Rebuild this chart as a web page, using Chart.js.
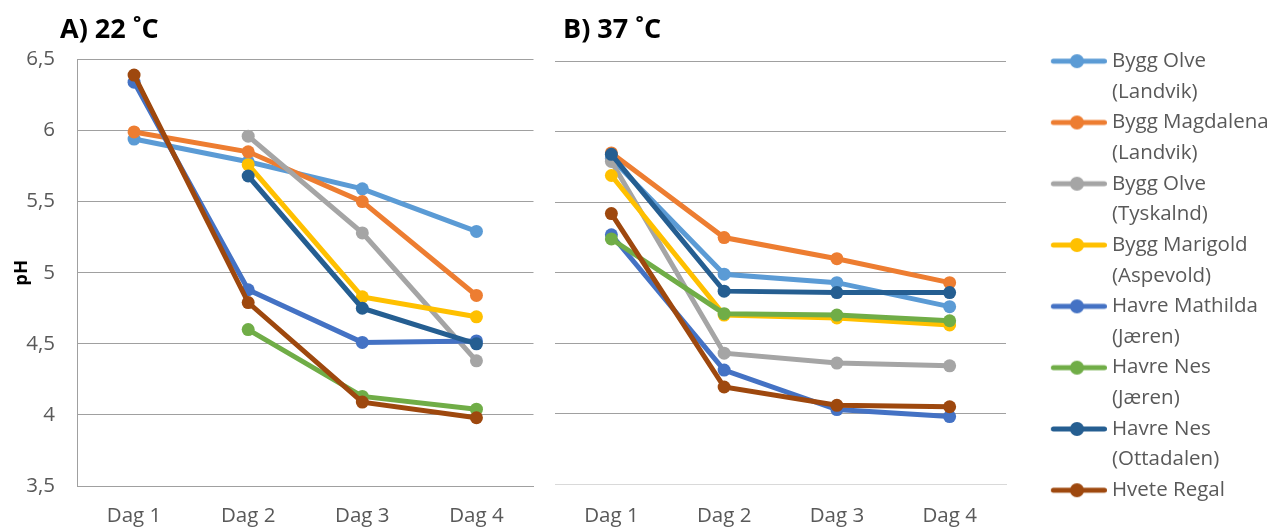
<!DOCTYPE html>
<html>
<head>
<meta charset="utf-8">
<script src="https://cdn.jsdelivr.net/npm/chart.js@4.4.1/dist/chart.umd.min.js"></script>
<style>
  body { margin: 0; background: #fff; }
  #wrap { position: relative; width: 1274px; height: 529px; overflow: hidden; }
  .panel-title { position: absolute; top: 14px; font: bold 27px 'Open Sans'; line-height: 27px; color: #000; }
  #boxA { position: absolute; left: 0; top: 0; width: 540px; height: 529px; }
  #boxB { position: absolute; left: 540px; top: 0; width: 780px; height: 529px; }
</style>
</head>
<body>
<div id="wrap">
  <div id="boxA"><canvas id="chartA"></canvas></div>
  <div id="boxB"><canvas id="chartB"></canvas></div>
  <div class="panel-title" style="left:60px">A) 22 ˚C</div>
  <div class="panel-title" style="left:563px">B) 37 ˚C</div>
</div>
<script>
// categories
const days = ['Dag 1', 'Dag 2', 'Dag 3', 'Dag 4'];

const seriesNames = [
  'Bygg Olve (Landvik)',
  'Bygg Magdalena (Landvik)',
  'Bygg Olve (Tyskalnd)',
  'Bygg Marigold (Aspevold)',
  'Havre Mathilda (Jæren)',
  'Havre Nes (Jæren)',
  'Havre Nes (Ottadalen)',
  'Hvete Regal'
];
const seriesColors = ['#5B9BD5', '#ED7D31', '#A5A5A5', '#FFC000', '#4472C4', '#70AD47', '#255E91', '#9E480E'];

// A) 22 C
const a_byggOlveLandvik   = [5.94, 5.78, 5.59, 5.29];
const a_byggMagdalena     = [5.99, 5.85, 5.50, 4.84];
const a_byggOlveTyskalnd  = [null, 5.96, 5.28, 4.38];
const a_byggMarigold      = [null, 5.76, 4.83, 4.69];
const a_havreMathilda     = [6.34, 4.88, 4.51, 4.52];
const a_havreNesJaeren    = [null, 4.60, 4.13, 4.04];
const a_havreNesOttadalen = [null, 5.68, 4.75, 4.50];
const a_hveteRegal        = [6.39, 4.79, 4.09, 3.98];

// B) 37 C
const b_byggOlveLandvik   = [5.81, 4.99, 4.93, 4.76];
const b_byggMagdalena     = [5.85, 5.25, 5.10, 4.93];
const b_byggOlveTyskalnd  = [5.79, 4.43, 4.36, 4.34];
const b_byggMarigold      = [5.69, 4.70, 4.68, 4.63];
const b_havreMathilda     = [5.27, 4.31, 4.03, 3.98];
const b_havreNesJaeren    = [5.24, 4.71, 4.70, 4.66];
const b_havreNesOttadalen = [5.84, 4.87, 4.86, 4.86];
const b_hveteRegal        = [5.42, 4.19, 4.06, 4.05];

const yTicks = [3.5, 4, 4.5, 5, 5.5, 6, 6.5];

const valuesA = [a_byggOlveLandvik, a_byggMagdalena, a_byggOlveTyskalnd, a_byggMarigold,
                 a_havreMathilda, a_havreNesJaeren, a_havreNesOttadalen, a_hveteRegal];
const valuesB = [b_byggOlveLandvik, b_byggMagdalena, b_byggOlveTyskalnd, b_byggMarigold,
                 b_havreMathilda, b_havreNesJaeren, b_havreNesOttadalen, b_hveteRegal];

const FONT = 'Open Sans';
const FSIZE = 20.5;
const TXT = '#595959';
const GRID = '#a0a0a0';
const PLOT_B_RIGHT = 466;   // where panel B's plot should end (canvas px)

const buildDatasets = (values) => {
  return values.map((v, i) => ({
    label: seriesNames[i],
    data: v,
    borderColor: seriesColors[i],
    backgroundColor: seriesColors[i],
    borderWidth: 5,
    pointRadius: 6.5,
    pointBorderWidth: 0,
    pointBackgroundColor: seriesColors[i],
    tension: 0,
    order: values.length - i   // later series drawn on top, like the original
  }));
};

// little line + dot symbol for the legend
const legendIcon = (color) => {
  const c = document.createElement('canvas');
  c.width = 106; c.height = 18;
  const g = c.getContext('2d');
  g.strokeStyle = color;
  g.lineWidth = 5;
  g.lineCap = 'round';
  g.beginPath(); g.moveTo(52.5, 9); g.lineTo(103.5, 9); g.stroke();
  g.fillStyle = color;
  g.beginPath(); g.arc(76.1, 9, 7, 0, Math.PI * 2); g.fill();
  return c;
};
const icons = seriesColors.map(legendIcon);

const commaTick = (v) => String(v).replace('.', ',');

const xAxis = (pad, height, borderColor) => ({
  offset: true,
  afterFit: (s) => { s.height = height; },
  grid: { display: false, drawTicks: false },
  border: { color: borderColor, width: 1 },
  ticks: { color: TXT, padding: pad, font: { family: FONT, size: FSIZE } }
});

// A) 22 C
new Chart(document.getElementById('chartA').getContext('2d'), {
  type: 'line',
  data: { labels: days, datasets: buildDatasets(valuesA) },
  options: {
    responsive: true,
    maintainAspectRatio: false,
    animation: false,
    layout: { padding: { top: 59.4, right: 5, bottom: 0, left: 0 } },
    plugins: { legend: { display: false }, tooltip: { enabled: false } },
    scales: {
      x: xAxis(17.7, 43, GRID),
      y: {
        min: 3.5, max: 6.5,
        afterBuildTicks: (s) => { s.ticks = yTicks.map(v => ({ value: v })); },
        afterFit: (s) => { s.width = 77; },
        grid: { color: GRID, drawTicks: false },
        border: { color: GRID, width: 1 },
        ticks: { color: TXT, padding: 22, font: { family: FONT, size: FSIZE }, callback: commaTick },
        title: { display: true, text: 'pH', color: '#000', font: { family: FONT, size: 18.5, weight: 'bold' }, padding: { top: 11, bottom: 0 } }
      }
    }
  }
});

// B) 37 C
const chartB = new Chart(document.getElementById('chartB').getContext('2d'), {
  type: 'line',
  data: { labels: days, datasets: buildDatasets(valuesB) },
  options: {
    responsive: true,
    maintainAspectRatio: false,
    animation: false,
    layout: { padding: { top: 50.9, right: 60, bottom: 0, left: 15 } },
    plugins: {
      tooltip: { enabled: false },
      // empty spacer so the plot starts a bit below the legend top
      title: { display: true, text: '', fullSize: false, font: { size: 1, lineHeight: 1 }, padding: { top: 0, bottom: 9.4 } },
      legend: {
        position: 'right',
        align: 'start',
        maxWidth: 400,
        labels: {
          usePointStyle: true,
          pointStyleWidth: 95.75,
          padding: 0,
          color: TXT,
          font: { family: FONT, size: FSIZE, lineHeight: 30.65 / FSIZE },
          generateLabels: (chart) => chart.data.datasets.map((ds, i) => {
            const name = seriesNames[i];
            const cut = name.indexOf(' (');
            return {
              text: cut > 0 ? [name.slice(0, cut), name.slice(cut + 1)] : [name],
              pointStyle: icons[i],
              fontColor: TXT,
              fillStyle: 'transparent',
              strokeStyle: 'transparent',
              lineWidth: 0,
              hidden: false,
              datasetIndex: i
            };
          })
        }
      }
    },
    scales: {
      x: xAxis(19.4, 44.7, '#d9d9d9'),
      y: {
        min: 3.5, max: 6.5,
        afterBuildTicks: (s) => { s.ticks = yTicks.map(v => ({ value: v })); },
        grid: { color: (c) => (c.tick && c.tick.value === 3.5 ? '#d9d9d9' : GRID), drawTicks: false },
        border: { display: false },
        ticks: { display: false }
      }
    }
  }
});

// legend width comes from the text, so nudge the right padding until the plot ends where it should
const off = chartB.chartArea.right - PLOT_B_RIGHT;
if (Math.abs(off) > 0.2) {
  chartB.options.layout.padding.right += off;
  chartB.update();
}
</script>
</body>
</html>
